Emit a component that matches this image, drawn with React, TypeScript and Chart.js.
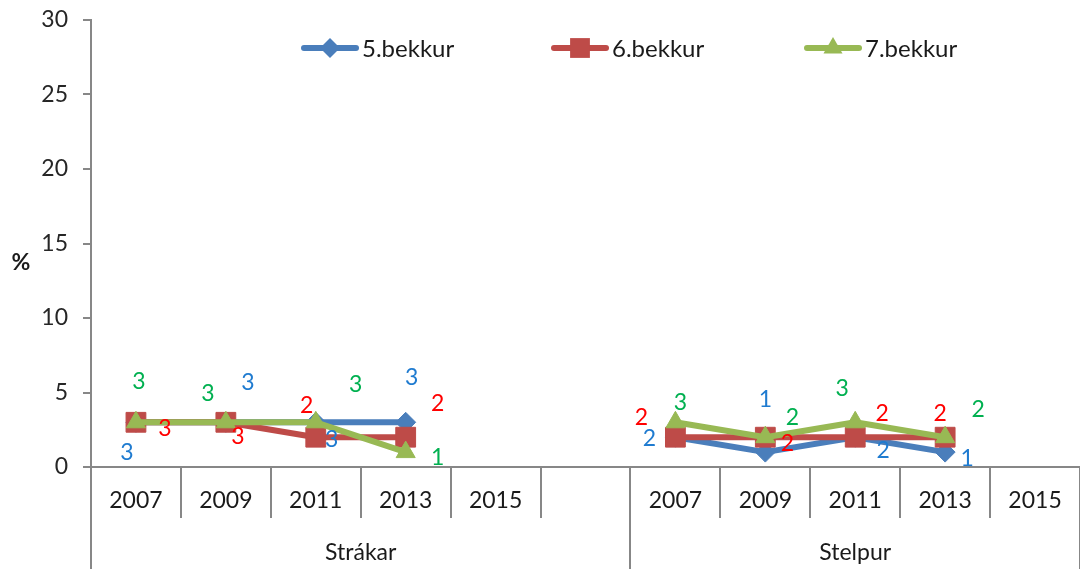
import React, { useEffect, useRef } from 'react';
import { Chart, registerables } from 'chart.js';

Chart.register(...registerables);

// ---------- data ----------
const categories = ['2007', '2009', '2011', '2013', '2015', '', '2007', '2009', '2011', '2013', '2015'];
const groupLabels = ['Strákar', 'Stelpur'];
const groupSizes = [6, 5];
const seriesNames = ['5.bekkur', '6.bekkur', '7.bekkur'];
const bekkur5 = [3, 3, 3, 3, null, null, 2, 1, 2, 1, null];
const bekkur6 = [3, 3, 2, 2, null, null, 2, 2, 2, 2, null];
const bekkur7 = [3, 3, 3, 1, null, null, 3, 2, 3, 2, null];
const yMin = 0;
const yMax = 30;
const yStep = 5;
const yTitle = '%';

// ---------- styling ----------
const FONT = 'Lato, "Open Sans", sans-serif';
const lineColors = ['#4A7EBB', '#BE4B48', '#98B954'];
const labelColors = ['#1F7BD0', '#FF0000', '#00B050'];
const pointStyles = ['rectRot', 'rect', 'triangle'];
const pointRadii = [10, 14, 11];
// data label offsets in px (dx, dy) relative to each point
const offsets5 = [[-9, 30], [22, -40], [16, 17], [6, -45], null, null, [-26, 1], [0, -53], [28, 13], [22, 6], null];
const offsets6 = [[29, 6], [12, 14], [-9, -32], [32, -34], null, null, [-34, -20], [22, 6], [27, -24], [-5, -24], null];
const offsets7 = [[3, -41], [-18, -29], [40, -38], [32, 5], null, null, [5, -20], [27, -20], [-13, -34], [33, -28], null];
const legendX = [330, 580, 833];
const legendY = 48;
const axisColor = '#878787';

const seriesData = [bekkur5, bekkur6, bekkur7];
const seriesOffsets = [offsets5, offsets6, offsets7];

function drawMarker(ctx: CanvasRenderingContext2D, style: string, x: number, y: number, r: number, color: string) {
  ctx.save();
  ctx.fillStyle = color;
  ctx.beginPath();
  if (style === 'rectRot') {
    ctx.moveTo(x - r, y);
    ctx.lineTo(x, y - r);
    ctx.lineTo(x + r, y);
    ctx.lineTo(x, y + r);
  } else if (style === 'rect') {
    const s = Math.SQRT1_2 * r;
    ctx.rect(x - s, y - s, 2 * s, 2 * s);
  } else {
    const h = Math.sqrt(3) / 2 * r;
    ctx.moveTo(x, y - r);
    ctx.lineTo(x + h, y + r / 2);
    ctx.lineTo(x - h, y + r / 2);
  }
  ctx.closePath();
  ctx.fill();
  ctx.restore();
}

const customPlugin = {
  id: 'customDraw',
  afterDatasetsDraw(chart: any) {
    const ctx: CanvasRenderingContext2D = chart.ctx;
    ctx.save();
    ctx.font = `23px ${FONT}`;
    ctx.textAlign = 'center';
    ctx.textBaseline = 'middle';
    seriesData.forEach((data, di) => {
      const meta = chart.getDatasetMeta(di);
      data.forEach((v, i) => {
        const off = seriesOffsets[di][i];
        if (v === null || !off) return;
        const pt = meta.data[i];
        ctx.fillStyle = labelColors[di];
        ctx.fillText(String(v), pt.x + off[0], pt.y + off[1]);
      });
    });
    ctx.restore();
  },
  afterDraw(chart: any) {
    const ctx: CanvasRenderingContext2D = chart.ctx;
    const area = chart.chartArea;
    const n = categories.length;
    const w = (area.right - area.left) / n;
    const bottom = chart.height;
    const yearBottom = area.bottom + 51;
    ctx.save();
    ctx.strokeStyle = axisColor;
    ctx.lineWidth = 2;
    // horizontal axis line
    ctx.beginPath();
    ctx.moveTo(area.left, area.bottom);
    ctx.lineTo(area.right, area.bottom);
    ctx.stroke();
    // group boundaries
    const groupStarts: number[] = [];
    let acc = 0;
    groupSizes.forEach((s) => { groupStarts.push(acc); acc += s; });
    for (let b = 0; b <= n; b++) {
      const x = Math.round(area.left + b * w);
      const full = b === 0 || b === n || groupStarts.includes(b);
      ctx.beginPath();
      ctx.moveTo(x, area.bottom);
      ctx.lineTo(x, full ? bottom : yearBottom);
      ctx.stroke();
    }
    // year labels
    ctx.fillStyle = '#1a1a1a';
    ctx.font = `23px ${FONT}`;
    ctx.textAlign = 'center';
    ctx.textBaseline = 'middle';
    const xs = chart.scales.x;
    categories.forEach((c, i) => {
      if (!c) return;
      ctx.fillText(c, xs.getPixelForValue(i), area.bottom + 34);
    });
    // group labels
    groupLabels.forEach((g, gi) => {
      const start = groupStarts[gi];
      const end = start + groupSizes[gi];
      ctx.fillText(g, area.left + ((start + end) / 2) * w, area.bottom + 86);
    });
    // y title
    ctx.font = `bold 23px ${FONT}`;
    ctx.fillText(yTitle, 21, 263);
    // legend
    seriesNames.forEach((name, i) => {
      const cx = legendX[i];
      ctx.strokeStyle = lineColors[i];
      ctx.lineWidth = 6;
      ctx.lineCap = 'round';
      ctx.beginPath();
      ctx.moveTo(cx - 26, legendY);
      ctx.lineTo(cx + 26, legendY);
      ctx.stroke();
      drawMarker(ctx, pointStyles[i], cx, legendY, pointRadii[i], lineColors[i]);
      ctx.fillStyle = '#1a1a1a';
      ctx.font = `24px ${FONT}`;
      ctx.textAlign = 'left';
      ctx.fillText(name, cx + 32, legendY + 1);
    });
    ctx.restore();
  },
};

export default function App() {
  const ref = useRef<HTMLCanvasElement | null>(null);
  useEffect(() => {
    if (!ref.current) return;
    const chart = new Chart(ref.current, {
      type: 'line',
      data: {
        labels: categories,
        datasets: seriesData.map((d, i) => ({
          label: seriesNames[i],
          data: d,
          borderColor: lineColors[i],
          backgroundColor: lineColors[i],
          pointBackgroundColor: lineColors[i],
          pointBorderColor: lineColors[i],
          pointStyle: pointStyles[i] as any,
          pointRadius: pointRadii[i],
          pointBorderWidth: 1,
          borderWidth: 6,
          borderJoinStyle: 'round' as const,
          borderCapStyle: 'round' as const,
          tension: 0,
          spanGaps: false,
          clip: false as any,
          order: 3 - i,
        })),
      },
      options: {
        animation: false,
        responsive: false,
        maintainAspectRatio: false,
        layout: { autoPadding: false, padding: { top: 20, bottom: 102, left: 0, right: 0 } },
        plugins: {
          legend: { display: false },
          tooltip: { enabled: false },
        },
        scales: {
          x: {
            type: 'category',
            display: false,
            offset: true,
          },
          y: {
            min: yMin,
            max: yMax,
            afterFit: (scale: any) => { scale.width = 91; scale.paddingTop = 0; scale.paddingBottom = 0; },
            ticks: {
              stepSize: yStep,
              padding: 15,
              color: '#262626',
              font: { family: FONT, size: 23 },
            },
            grid: {
              drawOnChartArea: false,
              drawTicks: true,
              tickLength: 8,
              color: axisColor,
              lineWidth: 2,
            },
            border: { color: axisColor, width: 2 },
          },
        },
      },
      plugins: [customPlugin],
    });
    return () => chart.destroy();
  }, []);
  return (
    <div style={{ position: 'fixed', left: 0, top: 0, width: 1080, height: 569, background: '#fff' }}>
      <canvas ref={ref} width={1080} height={569} style={{ display: 'block' }} />
    </div>
  );
}
